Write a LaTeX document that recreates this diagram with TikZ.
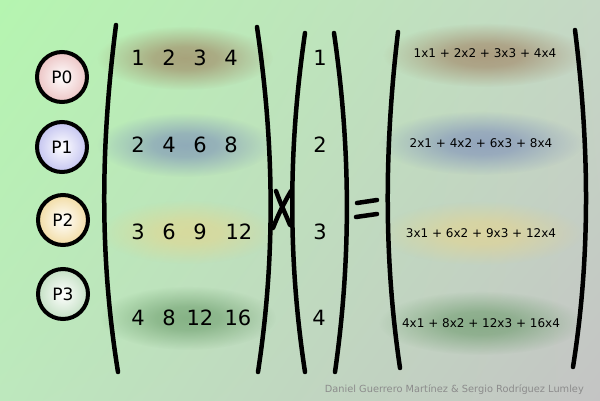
\documentclass[tikz,border=0pt]{standalone}
\usepackage{fontspec}
\setmainfont{DejaVu Sans}
\usetikzlibrary{fadings,shadings}
\pgfdeclareradialshading{glowsh}{\pgfpointorigin}{color(0bp)=(white!58!black); color(9bp)=(white!50!black); color(25bp)=(black); color(50bp)=(black)}
\pgfdeclarefading{glowfade}{\pgfuseshading{glowsh}}
\definecolor{gbrown}{HTML}{9A7050}
\definecolor{gblue}{HTML}{7080B8}
\definecolor{gyellow}{HTML}{EAD488}
\definecolor{ggreen}{HTML}{5E925E}
\definecolor{bgtl}{HTML}{B5F5B0}
\definecolor{bgtr}{HTML}{C5D8C5}
\definecolor{bgbl}{HTML}{BDE8BD}
\definecolor{bgbr}{HTML}{C4C4C4}
\definecolor{cpink}{HTML}{ECC4C4}
\definecolor{cblue}{HTML}{C4C4F0}
\definecolor{cyel}{HTML}{F2DCA4}
\definecolor{cgreen}{HTML}{C4E0C4}
\begin{document}
\begin{tikzpicture}[x=1pt,y=-1pt,
  paren/.style={line width=4.5pt,line cap=round},
  big/.style={font=\fontsize{21}{24}\selectfont,inner sep=0pt},
  res/.style={font=\fontsize{12}{14}\selectfont,inner sep=0pt},
  proc/.style={circle,draw=black,line width=4pt,minimum size=50pt,inner sep=0pt,font=\fontsize{17}{20}\selectfont},
  glow/.style={fill=#1,path fading=glowfade}]
\useasboundingbox (0,0) rectangle (600,400);
\shade[upper left=bgtl,upper right=bgtr,lower left=bgbl,lower right=bgbr]
  (0,0) rectangle (600,400);
% glows
\fill[glow=gbrown] (185,58) ellipse [x radius=88pt,y radius=32pt];
\fill[glow=gblue] (185,145) ellipse [x radius=88pt,y radius=32pt];
\fill[glow=gyellow] (188,232) ellipse [x radius=88pt,y radius=32pt];
\fill[glow=ggreen] (188,318) ellipse [x radius=88pt,y radius=32pt];
\fill[glow=gbrown] (485,55) ellipse [x radius=102pt,y radius=32pt];
\fill[glow=gblue] (481,143) ellipse [x radius=102pt,y radius=32pt];
\fill[glow=gyellow] (481,233) ellipse [x radius=102pt,y radius=32pt];
\fill[glow=ggreen] (481,323) ellipse [x radius=102pt,y radius=32pt];
% processes
\node[proc,inner color=white,outer color=cpink] (p0) at (62,77) {P0};
\node[proc,inner color=white,outer color=cblue] (p1) at (62,147) {P1};
\node[proc,inner color=white,outer color=cyel] (p2) at (63,220) {P2};
\node[proc,inner color=white,outer color=cgreen] (p3) at (63,294) {P3};
% parentheses
\draw[paren] (116,25) .. controls (100,150) and (100,260) .. (118,372);
\draw[paren] (257,27) .. controls (275,150) and (275,260) .. (258,372);
\draw[paren] (305,33) .. controls (288,150) and (288,260) .. (305,372);
\draw[paren] (334,33) .. controls (351,150) and (351,260) .. (335,372);
\draw[paren] (398,32) .. controls (384,150) and (384,260) .. (400,368);
\draw[paren] (575,30) .. controls (590,150) and (590,260) .. (573,367);
% matrix
\node[big] (a11) at (138,58) {1};
\node[big] (a12) at (169,58) {2};
\node[big] (a13) at (200,58) {3};
\node[big] (a14) at (231,58) {4};
\node[big] (a21) at (138,145) {2};
\node[big] (a22) at (169,145) {4};
\node[big] (a23) at (200,145) {6};
\node[big] (a24) at (231,145) {8};
\node[big] (a31) at (138,232) {3};
\node[big] (a32) at (169,232) {6};
\node[big] (a33) at (200,232) {9};
\node[big] (a34) at (239,232) {12};
\node[big] (a41) at (138,318) {4};
\node[big] (a42) at (169,318) {8};
\node[big] (a43) at (200,318) {12};
\node[big] (a44) at (238,318) {16};
% vector
\node[big] (v1) at (320,58) {1};
\node[big] (v2) at (320,145) {2};
\node[big] (v3) at (320,232) {3};
\node[big] (v4) at (319,318) {4};
% operators
\draw[line width=4.5pt,line cap=round] (276,191) .. controls (281,205) and (286,215) .. (290,225);
\draw[line width=4.5pt,line cap=round] (291,191) .. controls (284,203) and (278,215) .. (273,228);
\draw[line width=4.5pt,line cap=round] (357,203) -- (377,200);
\draw[line width=4.5pt,line cap=round] (356,217) -- (377,214);
% results
\node[res] (r1) at (485,53) {1x1 + 2x2 + 3x3 + 4x4};
\node[res] (r2) at (481,143) {2x1 + 4x2 + 6x3 + 8x4};
\node[res] (r3) at (481,233) {3x1 + 6x2 + 9x3 + 12x4};
\node[res] (r4) at (481,323) {4x1 + 8x2 + 12x3 + 16x4};
% credits
\node[anchor=east,inner sep=0pt,text=black!45,font=\fontsize{9.8}{11}\selectfont] (cr) at (584,390) {Daniel Guerrero Martínez \& Sergio Rodríguez Lumley};
\end{tikzpicture}
\end{document}
